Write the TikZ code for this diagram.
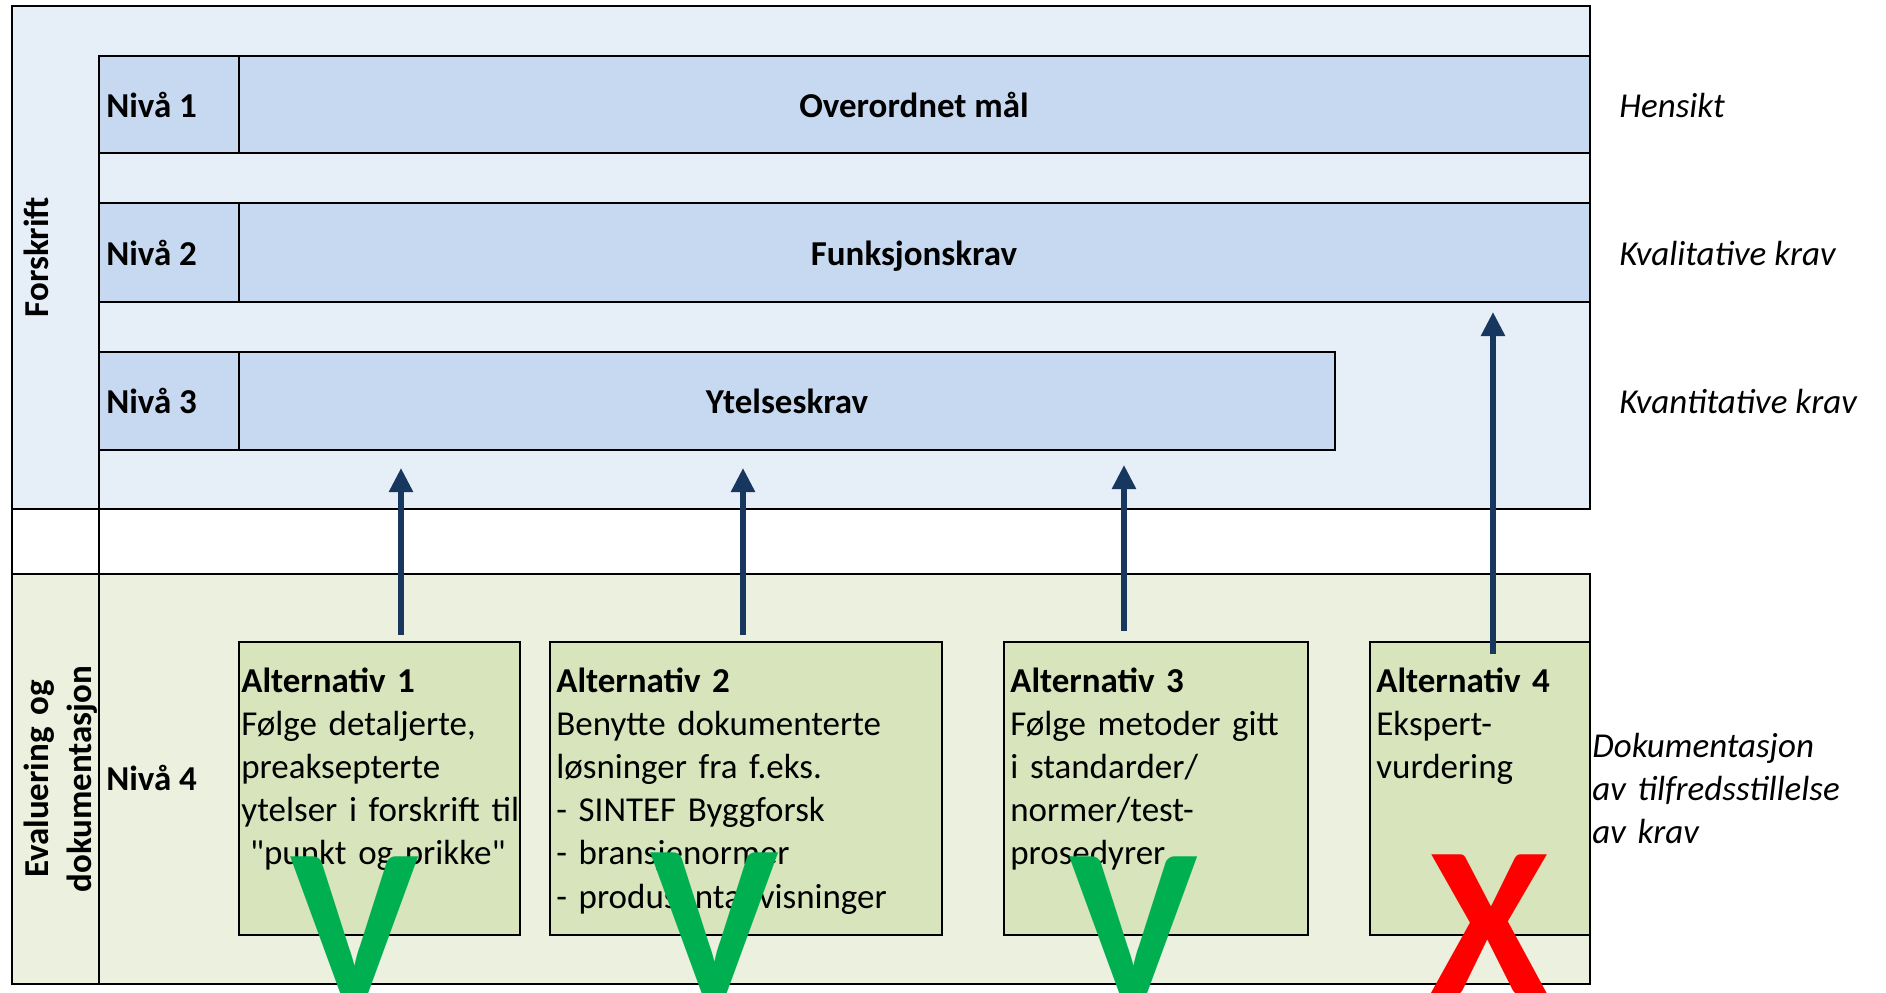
\documentclass[tikz,border=0pt]{standalone}
\usepackage{fontspec}
\setmainfont{Carlito}
\newfontfamily\rettfont{Carlito}
\usetikzlibrary{arrows.meta}

\definecolor{forskriftbg}{HTML}{E6EEF8}
\definecolor{nivabg}{HTML}{C6D9F0}
\definecolor{evalbg}{HTML}{EBF1DE}
\definecolor{altbg}{HTML}{D7E4BC}
\definecolor{pil}{HTML}{17375E}
\definecolor{okgreen}{HTML}{00B050}
\definecolor{nored}{HTML}{FF0000}

\tikzset{
  txt/.style = {font=\fontsize{19.9pt}{24.6pt}\selectfont, inner sep=0pt},
  fet/.style = {txt, font=\fontsize{19.9pt}{24.6pt}\selectfont\bfseries},
  kursiv/.style = {txt, font=\fontsize{19.9pt}{24.6pt}\selectfont\itshape, anchor=base west},
  alttxt/.style = {txt, text width=8cm, align=left, anchor=base west},
  uparrow/.style = {draw=pil, line width=0.11cm, -{Triangle[width=0.46cm,length=0.48cm]}},
  bigmark/.style = {font=\fontsize{123.5pt}{123.5pt}\selectfont\bfseries, inner sep=0pt, anchor=base},
  tykk/.style = {line width=1.1pt},
  tynn/.style = {line width=0.8pt}
}

\begin{document}
\begin{tikzpicture}[x=0.02cm, y=-0.02cm]
%\draw [help lines, step=100] (0,0) grid (1886,992);
    \useasboundingbox (0,0) rectangle (1886,992);
    \fill [white] (0,0) rectangle (1886,992);

    % forskrift
    \draw [tykk, fill = forskriftbg] (12,6) rectangle (1590,509);
    \draw [tynn, fill = nivabg] (99,56) rectangle (1590,153);
    \draw [tynn, fill = nivabg] (99,203) rectangle (1590,302);
    \draw [tynn, fill = nivabg] (99,352) rectangle (1335,450);
    \draw [tynn] (239,56) -- (239,153) (239,203) -- (239,302) (239,352) -- (239,450);
    \draw [tykk] (99,56) -- (99,509);
    \draw [tykk] (12,509) -- (12,574) (99,509) -- (99,574);

    % evaluering
    \draw [tykk, fill = evalbg] (12,574) rectangle (1590,984);
    \draw [tykk] (99,574) -- (99,984);
    \draw [tynn, fill = altbg] (239,642) rectangle (520,935);
    \draw [tynn, fill = altbg] (550,642) rectangle (942,935);
    \draw [tynn, fill = altbg] (1004,642) rectangle (1308,935);
    \draw [tynn, fill = altbg] (1370,642) rectangle (1590,935);

    \node [fet, rotate = 90, anchor = base] (forskrift) at (49,257) {Forskrift};
    \node [fet, rotate = 90, anchor = base, text width = 7cm, align = center] (evaluering) at (48,779) {Evaluering og\\dokumentasjon};

    \node [fet, anchor = base west] (niva1) at (106,117) {Nivå 1};
    \node [fet, anchor = base west] (niva2) at (106,265) {Nivå 2};
    \node [fet, anchor = base west] (niva3) at (106,413) {Nivå 3};
    \node [fet, anchor = base west] (niva4) at (106,790) {Nivå 4};

    \node [fet, anchor = base] (maal) at (914,117) {Overordnet mål};
    \node [fet, anchor = base] (funksjon) at (914,265) {Funksjonskrav};
    \node [fet, anchor = base] (ytelse) at (787,413) {Ytelseskrav};

    \node [kursiv] (hensikt) at (1619,117) {Hensikt};
    \node [kursiv] (kvalitativ) at (1619,265) {Kvalitative krav};
    \node [kursiv] (kvantitativ) at (1619,413) {Kvantitative krav};
    \node [kursiv, text width = 6cm, align = left] (dok) at (1592,757) {Dokumentasjon\\av tilfredsstillelse\\av krav};

    \node [alttxt] (alt1) at (241,692) {\textbf{Alternativ 1}\\Følge detaljerte,\\preaksepterte\\ytelser i forskrift til\\\hspace*{0.25em}{\rettfont "punkt og prikke"}};
    \node [alttxt] (alt2) at (556,692) {\textbf{Alternativ 2}\\Benytte dokumenterte\\løsninger fra f.eks.\\- SINTEF Byggforsk\\- bransjenormer\\- produsentanvisninger};
    \node [alttxt] (alt3) at (1010,692) {\textbf{Alternativ 3}\\Følge metoder gitt\\i standarder/\\normer/test-\\prosedyrer};
    \node [alttxt] (alt4) at (1376,692) {\textbf{Alternativ 4}\\Ekspert-\\vurdering};

    % piler
    \coordinate (p1s) at (401,635);
    \coordinate (p1e) at (401,468);
    \coordinate (p2s) at (743,635);
    \coordinate (p2e) at (743,468);
    \coordinate (p3s) at (1124,631);
    \coordinate (p3e) at (1124,465);
    \coordinate (p4s) at (1493,654);
    \coordinate (p4e) at (1493,312);
    \draw [uparrow] (p1s) -- (p1e);
    \draw [uparrow] (p2s) -- (p2e);
    \draw [uparrow] (p3s) -- (p3e);
    \draw [uparrow] (p4s) -- (p4e);

    % V og X
    \begin{scope}
    \clip (0,0) rectangle (1886,992);
    \node [bigmark, text = okgreen] (v1) at (355,997) {V};
    \node [bigmark, text = okgreen] (v2) at (715,993) {V};
    \node [bigmark, text = okgreen] (v3) at (1134,997) {V};
    \node [bigmark, text = nored] (x4) at (1489,995) {X};
    \end{scope}
\end{tikzpicture}
\end{document}
